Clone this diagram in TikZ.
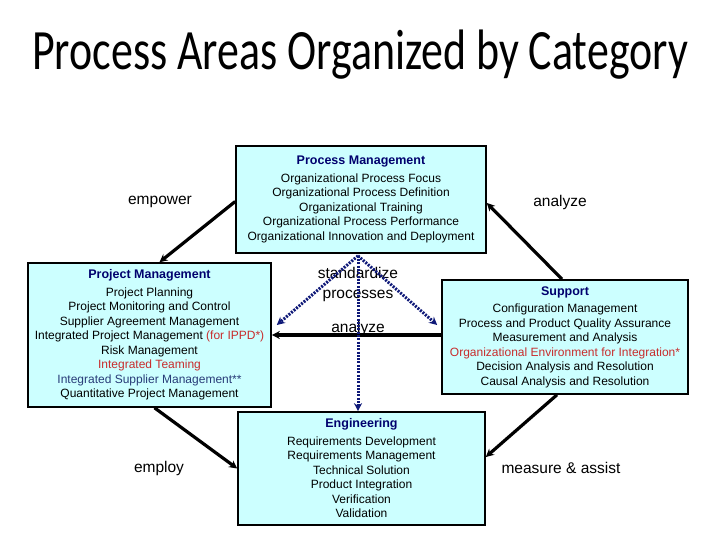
\documentclass[tikz,border=0pt]{standalone}
\usepackage{fontspec}
\usepackage{graphicx}
\setmainfont{Liberation Sans}
\newfontfamily\titlefont{Carlito}
\usetikzlibrary{calc,arrows.meta}

\definecolor{boxfill}{RGB}{204,255,255}
\definecolor{titlenavy}{RGB}{0,0,110}
\definecolor{redpa}{RGB}{200,45,45}
\definecolor{bluepa}{RGB}{40,60,120}
\definecolor{dotnavy}{RGB}{15,25,120}

\newcommand{\cattitle}[1]{{\fontsize{12.5}{14.5}\selectfont\bfseries\color{titlenavy}#1}\\[3pt]}

\tikzset{
  catbox/.style={draw,line width=1.6pt,fill=boxfill,align=center,inner sep=0pt,
    font=\fontsize{12}{14.5}\selectfont},
  rel/.style={font=\fontsize{15.5}{20}\selectfont,align=center},
  solidarrow/.style={line width=3.2pt,-{Stealth[length=8pt,width=8pt]}},
  dotarrow/.style={dotnavy,line width=3pt,dash pattern=on 2pt off 1.3pt,
    -{Stealth[length=8pt,width=8pt]}}
}

\begin{document}
\begin{tikzpicture}[x=1pt,y=-1pt]
  \useasboundingbox (0,0) rectangle (720,540);
  % titulo
  \node[font=\titlefont\fontsize{57}{60}\selectfont,anchor=base] (title) at (360,70)
    {\scalebox{0.77}[1]{Process Areas Organized by Category}};
  % categorias
  \node[catbox,minimum width=250pt,minimum height=107pt] (procmgmt) at (361,199.5) {%
    \cattitle{Process Management}
    Organizational Process Focus\\
    Organizational Process Definition\\
    Organizational Training\\
    Organizational Process Performance\\
    Organizational Innovation and Deployment};
  \node[catbox,minimum width=243pt,minimum height=144pt] (projmgmt) at (149.5,335) {%
    \cattitle{Project Management}
    Project Planning\\
    Project Monitoring and Control\\
    Supplier Agreement Management\\
    Integrated Project Management {\color{redpa}(for IPPD*)}\\
    Risk Management\\
    {\color{redpa}Integrated Teaming}\\
    {\color{bluepa}Integrated Supplier Management**}\\
    Quantitative Project Management};
  \node[catbox,minimum width=246pt,minimum height=114pt] (support) at (565,337) {%
    \cattitle{Support}
    Configuration Management\\
    Process and Product Quality Assurance\\
    Measurement and Analysis\\
    {\color{redpa}Organizational Environment for Integration*}\\
    Decision Analysis and Resolution\\
    Causal Analysis and Resolution};
  \node[catbox,minimum width=247pt,minimum height=113pt] (engineering) at (361.5,468.5) {%
    \cattitle{Engineering}
    Requirements Development\\
    Requirements Management\\
    Technical Solution\\
    Product Integration\\
    Verification\\
    Validation};
  % relaciones
  \node[rel] (empower) at (160,202) {empower};
  \node[rel] (analyzetop) at (560,202) {analyze};
  \node[rel] (standardize) at (358,284) {standardize\\processes};
  \node[rel] (analyzemid) at (358,328) {analyze};
  \node[rel] (employ) at (159,468) {employ};
  \node[rel] (measure) at (561,468) {measure \& assist};
  % flechas
  \draw[solidarrow] ([yshift=-2pt]procmgmt.west) -- ([xshift=10pt]projmgmt.north);
  \draw[solidarrow] ([xshift=-3pt]support.north) -- ([yshift=-3.5pt]procmgmt.east);
  \draw[solidarrow] ([xshift=5pt]projmgmt.south) -- (engineering.west);
  \draw[solidarrow] ([xshift=-8pt]support.south) -- ([yshift=11.5pt]engineering.east);
  \draw[solidarrow] (support.west |- projmgmt.east) -- (projmgmt.east);
  % estandarizar
  \coordinate (hub) at ([xshift=-3pt,yshift=-2pt]procmgmt.south);
  \draw[dotarrow] (hub) -- ([xshift=5pt,yshift=10pt]projmgmt.east);
  \draw[dotarrow] (hub) -- ([xshift=-4pt,yshift=12pt]support.west);
  \draw[dotarrow] (hub) -- (hub |- engineering.north);
\end{tikzpicture}
\end{document}
